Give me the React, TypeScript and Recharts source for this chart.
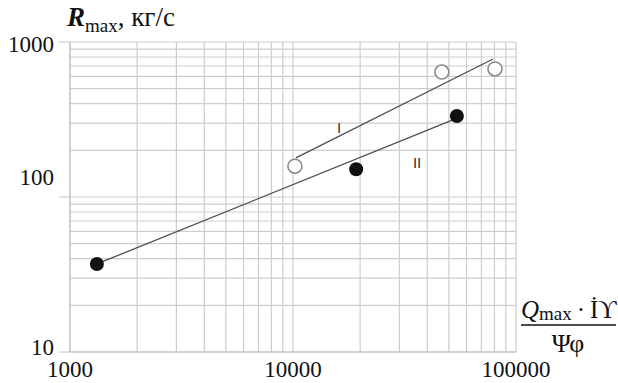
import { CartesianGrid, ComposedChart, Scatter, XAxis, YAxis } from "recharts";

// series I (open circles) and II (filled circles)
const pointsI = [
    { x: 10200, y: 158 },
    { x: 46500, y: 640 },
    { x: 80500, y: 670 },
];
const pointsII = [
    { x: 1320, y: 37 },
    { x: 19200, y: 151 },
    { x: 54300, y: 333 },
];
// fitted lines, endpoints only
const lineI = [
    { x: 10300, y: 179 },
    { x: 78900, y: 777 },
];
const lineII = [
    { x: 1320, y: 37 },
    { x: 52100, y: 314 },
];
const seriesLabels = [
    { x: 16100, y: 279, text: "I" },
    { x: 36000, y: 168, text: "II" },
];

const xTicks = [1000, 2000, 3000, 4000, 5000, 6000, 7000, 8000, 9000,
    10000, 20000, 30000, 40000, 50000, 60000, 70000, 80000, 90000, 100000];
const yTicks = [10, 20, 30, 40, 50, 60, 70, 80, 90,
    100, 200, 300, 400, 500, 600, 700, 800, 900, 1000];
const xMajor = [1000, 10000, 100000];
const yMajor = [10, 100, 1000];

const serif = "'Liberation Serif', 'Times New Roman', serif";

// the scanned figure puts its y labels a bit off the gridlines
const yLabelShift: Record<number, number> = { 10: 3, 100: -12, 1000: 10 };

const XTick = (props: any) => {
    const { x, y, payload } = props;
    if (!xMajor.includes(payload.value)) return <g />;
    return (
        <g>
            <text x={x} y={y + 25} textAnchor="middle" fontFamily={serif} fontSize={23} fill="#111">
                {payload.value}
            </text>
        </g>
    );
};

const YTick = (props: any) => {
    const { x, y, payload } = props;
    if (!yMajor.includes(payload.value)) return <g />;
    return (
        <g>
            <line x1={x - 11} x2={x} y1={y} y2={y} stroke="#c4c4c4" />
            <text x={x - 16} y={y + yLabelShift[payload.value]} textAnchor="end" fontFamily={serif} fontSize={23} fill="#111">
                {payload.value}
            </text>
        </g>
    );
};

const openDot = (p: any) => (
    <circle cx={p.cx} cy={p.cy} r={7} fill="#fff" stroke="#8a8a8a" strokeWidth={1.6} />
);
const filledDot = (p: any) => (
    <circle cx={p.cx} cy={p.cy} r={7} fill="#111" />
);
const noDot = () => <g />;
const labelShape = (p: any) => (
    <text x={p.cx} y={p.cy} textAnchor="middle" dominantBaseline="central"
        fontFamily="'Liberation Sans', Arial, sans-serif" fontSize={15} fill="#333">
        {p.payload.text}
    </text>
);

export default function App() {
    return (
        <div style={{ position: "absolute", left: 0, top: 0, width: 618, height: 383, background: "#fff" }}>
            <ComposedChart width={618} height={383}
                margin={{ top: 42, right: 102, bottom: 0, left: 0 }}>
                <CartesianGrid stroke="#cdcdcd" strokeWidth={1.2} />
                <XAxis type="number" dataKey="x" scale="log" domain={[1000, 100000]}
                    ticks={xTicks} interval={0} tick={XTick} tickLine={false}
                    tickSize={0} tickMargin={0} height={31} axisLine={{ stroke: "#bdbdbd" }}
                    allowDataOverflow />
                <YAxis type="number" dataKey="y" scale="log" domain={[10, 1000]}
                    ticks={yTicks} interval={0} tick={YTick} tickLine={false}
                    tickSize={0} tickMargin={0} width={70} axisLine={{ stroke: "#bdbdbd" }}
                    allowDataOverflow />
                <Scatter data={lineI} line={{ stroke: "#4d4d4d", strokeWidth: 1.3 }}
                    shape={noDot} isAnimationActive={false} />
                <Scatter data={lineII} line={{ stroke: "#4d4d4d", strokeWidth: 1.3 }}
                    shape={noDot} isAnimationActive={false} />
                <Scatter data={pointsI} shape={openDot} isAnimationActive={false} />
                <Scatter data={pointsII} shape={filledDot} isAnimationActive={false} />
                <Scatter data={seriesLabels} shape={labelShape} isAnimationActive={false} />
            </ComposedChart>
            <svg width={618} height={383} style={{ position: "absolute", left: 0, top: 0, pointerEvents: "none" }}>
                <text x={67} y={26} fontFamily={serif} fontSize={27} fill="#111">
                    <tspan fontStyle="italic" fontWeight="bold">R</tspan>
                    <tspan fontSize={19} dy={6}>max</tspan>
                    <tspan dy={-6}>, кг/с</tspan>
                </text>
                <text x={521} y={318} fontFamily={serif} fontSize={25} fill="#111">
                    <tspan fontStyle="italic">Q</tspan>
                    <tspan fontSize={19} dy={2}>max</tspan>
                    <tspan dy={-2}>{"\u2009·\u2009İϒ"}</tspan>
                </text>
                <line x1={521} x2={616} y1={325} y2={325} stroke="#111" strokeWidth={1.3} />
                <text x={568} y={352} textAnchor="middle" fontFamily={serif} fontSize={26} fill="#111">Ψφ</text>
            </svg>
        </div>
    );
}
